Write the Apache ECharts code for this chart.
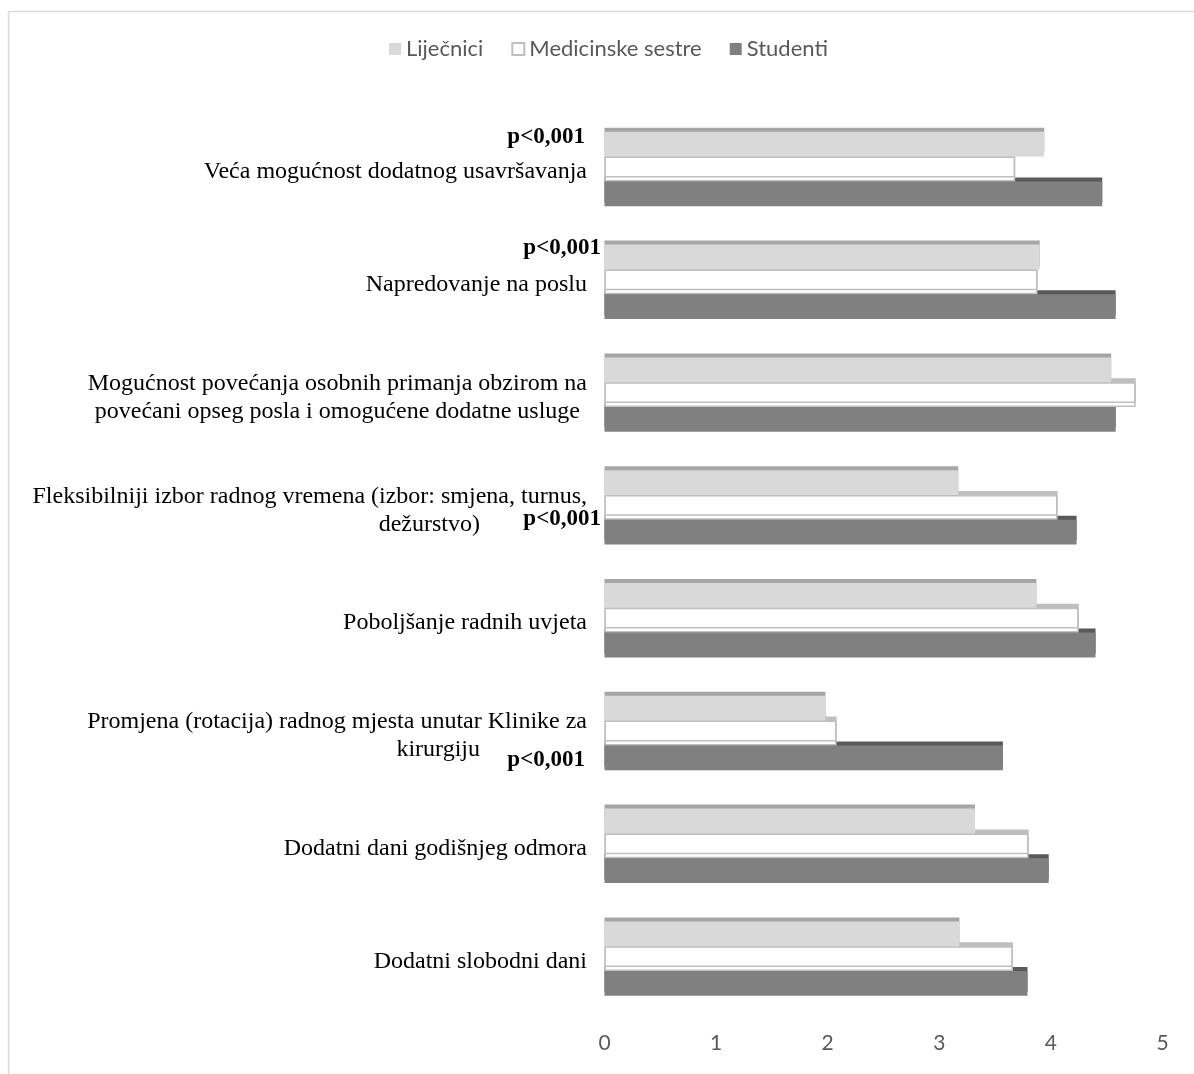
<!DOCTYPE html>
<html>
<head>
<meta charset="utf-8">
<script src="https://cdn.jsdelivr.net/npm/echarts@6/dist/echarts.min.js"></script>
<style>html,body{margin:0;padding:0;background:#fff;}#c{width:1194px;height:1074px;}</style>
</head>
<body>
<div id="c"></div>
<script>
const categories = [
  'Veća mogućnost dodatnog usavršavanja',
  'Napredovanje na poslu',
  'Mogućnost povećanja osobnih primanja obzirom na\npovećani opseg posla i omogućene dodatne usluge',
  'Fleksibilniji izbor radnog vremena (izbor: smjena, turnus,\ndežurstvo)',
  'Poboljšanje radnih uvjeta',
  'Promjena (rotacija) radnog mjesta unutar Klinike za\nkirurgiju',
  'Dodatni dani godišnjeg odmora',
  'Dodatni slobodni dani'
];
const seriesNames = ['Liječnici', 'Medicinske sestre', 'Studenti'];
const lijecnici = [3.94, 3.90, 4.54, 3.17, 3.87, 1.98, 3.32, 3.18];
const sestre    = [3.68, 3.88, 4.76, 4.06, 4.25, 2.08, 3.80, 3.66];
const studenti  = [4.46, 4.58, 4.58, 4.23, 4.40, 3.57, 3.98, 3.79];
const xTicks = [0, 1, 2, 3, 4, 5];
const pText = 'p<0,001';
const pCategories = [0, 1, 3, 5];

// layout for p-value annotations (offsets from category centre)
const pLayout = {0: {dy: -32, right: 585}, 1: {dy: -34, right: 601}, 3: {dy: 12, right: 601}, 5: {dy: 27, right: 585}};
const secondLinePad = {2: 7, 3: 107, 5: 107};

const chart = echarts.init(document.getElementById('c'));
const serif = '"Liberation Serif", "Times New Roman", serif';
const sans = 'Lato, "Open Sans", sans-serif';

function labelFormatter(value, idx) {
  const lines = value.split('\n');
  if (lines.length === 1) return '{a|' + lines[0] + '}';
  const pad = secondLinePad[idx] || 0;
  return '{a|' + lines[0] + '}\n{p' + pad + '|' + lines[1] + '}';
}
const rich = {a: {fontFamily: serif, fontSize: 24, lineHeight: 28, color: '#000'}};
Object.values(secondLinePad).forEach(p => {
  rich['p' + p] = {fontFamily: serif, fontSize: 24, lineHeight: 28, color: '#000', padding: [0, p, 0, 0]};
});

const noShadowLegend = {shadowBlur: 0, shadowOffsetX: 0, shadowOffsetY: 0, shadowColor: 'rgba(0,0,0,0)'};

chart.setOption({
  animation: false,
  backgroundColor: '#fff',
  legend: {
    data: seriesNames,
    left: 389,
    top: 37,
    padding: 0,
    itemWidth: 12,
    itemHeight: 12,
    itemGap: 28,
    icon: 'rect',
    itemStyle: noShadowLegend,
    textStyle: {fontFamily: sans, fontSize: 22, color: '#595959', lineHeight: 24}
  },
  grid: {left: 604.5, right: 31.5, top: 112.6, bottom: 59, containLabel: false},
  xAxis: {
    type: 'value', min: xTicks[0], max: xTicks[xTicks.length - 1], interval: 1,
    axisLine: {show: false}, axisTick: {show: false}, splitLine: {show: false},
    axisLabel: {fontFamily: sans, fontSize: 21, color: '#595959', margin: 18}
  },
  yAxis: {
    type: 'category', data: categories, inverse: true,
    axisLine: {show: false}, axisTick: {show: false},
    axisLabel: {margin: 17.5, formatter: labelFormatter, rich: rich, align: 'right', padding: [6, 0, 0, 0]}
  },
  series: [
    {name: seriesNames[0], type: 'bar', data: lijecnici, z: 4, barGap: '0%', barCategoryGap: '34%',
     itemStyle: {color: '#d9d9d9', shadowColor: '#a6a6a6', shadowOffsetY: -4, shadowBlur: 0}},
    {name: seriesNames[1], type: 'bar', data: sestre, z: 3, barGap: '0%', barCategoryGap: '34%',
     itemStyle: {color: '#ffffff', borderColor: '#bfbfbf', borderWidth: 1.5, shadowColor: '#bfbfbf', shadowOffsetY: -4, shadowBlur: 0}},
    {name: seriesNames[2], type: 'bar', data: studenti, z: 2, barGap: '0%', barCategoryGap: '34%',
     itemStyle: {color: '#808080', shadowColor: '#595959', shadowOffsetY: -4, shadowBlur: 0}}
  ]
});

const graphics = [{
  type: 'rect', silent: true, z: -10,
  shape: {x: 8.5, y: 11.5, width: 1300, height: 1200},
  style: {fill: 'none', stroke: '#d9d9d9', lineWidth: 1.5}
}];
pCategories.forEach(ci => {
  const yc = chart.convertToPixel({yAxisIndex: 0}, categories[ci]);
  const l = pLayout[ci];
  graphics.push({
    type: 'text', silent: true,
    x: l.right, y: yc + l.dy,
    style: {text: pText, fontFamily: serif, fontWeight: 'bold', fontSize: 23, fill: '#000', align: 'right', verticalAlign: 'middle'}
  });
});
chart.setOption({graphic: graphics});
</script>
</body>
</html>
